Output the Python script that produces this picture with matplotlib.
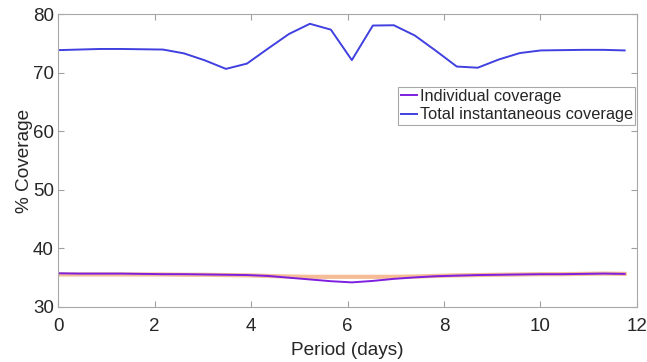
import numpy as np
import matplotlib
matplotlib.use('Agg')
import matplotlib.pyplot as plt

plt.rcParams['font.family'] = ['Liberation Sans', 'DejaVu Sans']

# period in days
period = [0.0, 0.435, 0.87, 1.305, 1.74, 2.175, 2.61, 3.045, 3.48, 3.915,
          4.35, 4.785, 5.22, 5.655, 6.09, 6.525, 6.96, 7.395, 7.83, 8.265,
          8.7, 9.135, 9.57, 10.005, 10.44, 10.875, 11.31, 11.745]

total_cov = [73.85, 73.95, 74.05, 74.05, 74.0, 73.95, 73.3, 72.1, 70.65, 71.55,
             74.1, 76.6, 78.35, 77.35, 72.15, 78.05, 78.1, 76.35, 73.75, 71.05,
             70.85, 72.25, 73.35, 73.8, 73.85, 73.9, 73.9, 73.8]

indiv_cov = [35.75, 35.7, 35.7, 35.7, 35.65, 35.6, 35.6, 35.55, 35.5, 35.45,
             35.3, 35.0, 34.7, 34.4, 34.2, 34.45, 34.8, 35.05, 35.25, 35.35,
             35.45, 35.5, 35.55, 35.6, 35.6, 35.65, 35.7, 35.65]

orbit_cov = [35.55, 35.55, 35.55, 35.55, 35.55, 35.55, 35.5, 35.5, 35.45, 35.4,
             35.3, 35.2, 35.15, 35.15, 35.15, 35.15, 35.15, 35.2, 35.3, 35.4,
             35.45, 35.5, 35.55, 35.6, 35.6, 35.65, 35.7, 35.65]

fig = plt.figure(figsize=(6.47, 3.62), dpi=100)
ax = fig.add_axes([0.0897, 0.152, 0.8948, 0.809])

ax.plot(period, orbit_cov, color='#f4b183', lw=3, alpha=0.85)
ax.plot(period, indiv_cov, color='#7e1fe0', lw=1.4, label='Individual coverage')
ax.plot(period, total_cov, color='#4040e0', lw=1.4, label='Total instantaneous coverage')

ax.set_xlim(0, 12)
ax.set_ylim(30, 80)
ax.set_xticks(np.arange(0, 13, 2))
ax.set_yticks(np.arange(30, 81, 10))
ax.tick_params(direction='in', top=True, right=True, length=4, color='#a0a0a0',
               labelsize=13.5, labelcolor='#262626')
ax.tick_params(axis='x', pad=8)
ax.tick_params(axis='y', pad=3)
for s in ax.spines.values():
    s.set_color('#a8a8a8')
ax.set_xlabel('Period (days)', fontsize=13.7, labelpad=5, color='#262626')
ax.set_ylabel('% Coverage', fontsize=13.7, labelpad=0, color='#262626')

leg = ax.legend(loc='upper right', bbox_to_anchor=(0.997, 0.752), fontsize=11.8,
                handlelength=1.0, handletextpad=0.15, borderpad=0.15,
                labelspacing=0.2, borderaxespad=0, fancybox=False, framealpha=1)
leg.get_frame().set_edgecolor('#a8a8a8')
leg.get_frame().set_linewidth(0.8)
for t in leg.get_texts():
    t.set_color('#262626')

fig.savefig('out.png', dpi=100)
